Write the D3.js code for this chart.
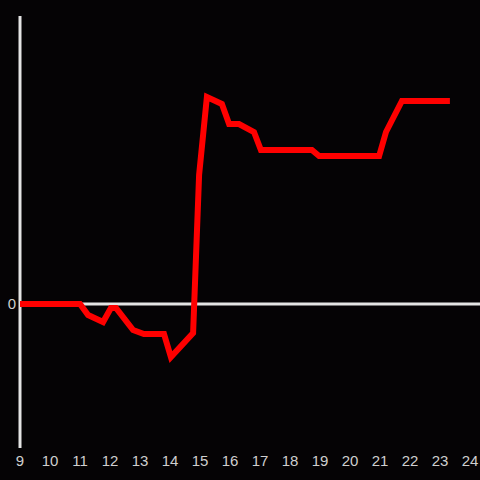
<!DOCTYPE html>
<html><head><meta charset="utf-8">
<script src="https://cdn.jsdelivr.net/npm/d3@7"></script>
<style>html,body{margin:0;padding:0;background:#050305;}</style>
</head><body>
<svg id="c" width="480" height="480"></svg>
<script>
const hours = [9, 11, 11.27, 11.77, 12.03, 12.2, 12.77, 13.13, 13.8, 14.03, 14.77, 14.97, 15.23, 15.73, 15.97, 16.3, 16.8, 17.03, 18.73, 18.97, 20.97, 21.2, 21.73, 23.33];
const values = [0, 0, -0.11, -0.18, -0.04, -0.04, -0.26, -0.30, -0.30, -0.53, -0.29, 1.29, 2.07, 2.00, 1.80, 1.80, 1.72, 1.54, 1.54, 1.48, 1.48, 1.72, 2.03, 2.03];
const xTicks = [9,10,11,12,13,14,15,16,17,18,19,20,21,22,23,24];
const yTicks = [0];

const svg = d3.select("#c");
svg.append("rect").attr("width",480).attr("height",480).attr("fill","#050305");
const x = d3.scaleLinear().domain([9,24]).range([20,470]);
const y = d3.scaleLinear().domain([-1.44,2.88]).range([448,16]);

// y axis line
svg.append("line").attr("x1",x(9)).attr("x2",x(9)).attr("y1",y(2.88)).attr("y2",y(-1.44))
  .attr("stroke","#e4e4e4").attr("stroke-width",3);
// zero line
svg.append("line").attr("x1",x(9)).attr("x2",480).attr("y1",y(0)).attr("y2",y(0))
  .attr("stroke","#e4e4e4").attr("stroke-width",3);

svg.selectAll("text.xt").data(xTicks).enter().append("text")
  .attr("class","xt").attr("x",d=>x(d)).attr("y",466)
  .attr("text-anchor","middle").attr("fill","#cfcfcf")
  .attr("font-family","Liberation Sans, Arial, sans-serif").attr("font-size",15)
  .text(d=>d);
svg.selectAll("text.yt").data(yTicks).enter().append("text")
  .attr("class","yt").attr("x",16).attr("y",d=>y(d)+5)
  .attr("text-anchor","end").attr("fill","#cfcfcf")
  .attr("font-family","Liberation Sans, Arial, sans-serif").attr("font-size",15)
  .text(d=>d);

const line = d3.line().x((d,i)=>x(hours[i])).y(d=>y(d));
svg.append("path").attr("d",line(values)).attr("fill","none")
  .attr("stroke","#ff0000").attr("stroke-width",6).attr("stroke-linejoin","miter");
</script>
</body></html>
